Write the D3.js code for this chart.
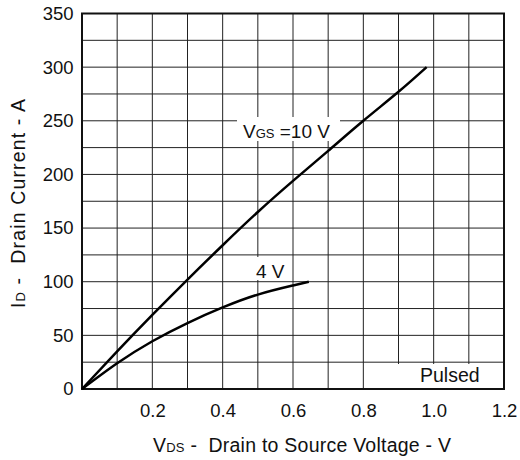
<!DOCTYPE html>
<html><head><meta charset="utf-8">
<script src="https://cdn.jsdelivr.net/npm/d3@7"></script>
<style>body{margin:0;background:#fff}text{font-family:"Liberation Sans",Arial,sans-serif;fill:#111;white-space:pre}</style>
</head><body><svg id="c" width="520" height="460"></svg>
<script>
const vds10 = [0, 0.1, 0.2, 0.3, 0.4, 0.5, 0.6, 0.7, 0.8, 0.9, 0.98];
const id10  = [0, 35, 69, 102, 134, 165, 194, 222, 250, 277, 300];
const vds4  = [0, 0.1, 0.2, 0.3, 0.4, 0.5, 0.6, 0.645];
const id4   = [0, 24, 44.5, 61.5, 76, 88, 96.5, 100];
const xTicks = [0.2, 0.4, 0.6, 0.8, 1.0, 1.2];
const yTicks = [0, 50, 100, 150, 200, 250, 300, 350];

const svg = d3.select("#c");
const L = 82, R = 504, T = 13.5, B = 389;
const x = d3.scaleLinear().domain([0, 1.2]).range([L, R]);
const y = d3.scaleLinear().domain([0, 350]).range([B, T]);

// grid
const g = svg.append("g");
g.selectAll("line.v").data(d3.range(1, 12).map(i => i / 10)).enter().append("line")
  .attr("x1", d => x(d)).attr("x2", d => x(d)).attr("y1", T).attr("y2", B)
  .attr("stroke", "#222").attr("stroke-width", 1);
g.selectAll("line.h").data(d3.range(1, 14).map(i => i * 25)).enter().append("line")
  .attr("y1", d => y(d)).attr("y2", d => y(d)).attr("x1", L).attr("x2", R)
  .attr("stroke", "#222").attr("stroke-width", 1);

// label backgrounds
svg.append("rect").attr("x", 237).attr("y", 117).attr("width", 103).attr("height", 24).attr("fill", "#fff");
svg.append("rect").attr("x", 252).attr("y", 257).attr("width", 38).attr("height", 23).attr("fill", "#fff");
svg.append("rect").attr("x", 398).attr("y", 364).attr("width", 106).attr("height", 24).attr("fill", "#fff");

// frame
svg.append("rect").attr("x", L).attr("y", T).attr("width", R - L).attr("height", B - T)
  .attr("fill", "none").attr("stroke", "#111").attr("stroke-width", 2);

// axes ticks labels
const ax = svg.append("g").attr("transform", `translate(0,${B})`)
  .call(d3.axisBottom(x).tickValues(xTicks).tickFormat(d3.format(".1f")).tickSize(0).tickPadding(15));
ax.select(".domain").remove();
ax.selectAll("text").attr("font-size", 18.5).attr("font-family", "Liberation Sans, Arial, sans-serif").attr("fill", "#111");
const ay = svg.append("g").attr("transform", `translate(${L},0)`)
  .call(d3.axisLeft(y).tickValues(yTicks).tickSize(0).tickPadding(8.5));
ay.select(".domain").remove();
ay.selectAll("text").attr("font-size", 18.5).attr("font-family", "Liberation Sans, Arial, sans-serif").attr("fill", "#111");

// curves
const line = d3.line().x(d => x(d[0])).y(d => y(d[1])).curve(d3.curveNatural);
svg.append("path").datum(vds10.map((v, i) => [v, id10[i]])).attr("d", line)
  .attr("fill", "none").attr("stroke", "#000").attr("stroke-width", 2.5);
svg.append("path").datum(vds4.map((v, i) => [v, id4[i]])).attr("d", line)
  .attr("fill", "none").attr("stroke", "#000").attr("stroke-width", 2.5);

// labels
const t1 = svg.append("text").attr("x", 243).attr("y", 138).attr("font-size", 19);
t1.append("tspan").text("V");
t1.append("tspan").attr("font-size", 13).text("GS");
t1.append("tspan").text(" =10 V");
svg.append("text").attr("x", 256).attr("y", 278).attr("font-size", 19).text("4 V");
svg.append("text").attr("x", 420).attr("y", 382).attr("font-size", 19.5).text("Pulsed");

// axis titles
const xt = svg.append("text").attr("x", 153).attr("y", 452).attr("font-size", 19.5)
  .attr("textLength", 298).attr("lengthAdjust", "spacing");
xt.append("tspan").text("V");
xt.append("tspan").attr("font-size", 13).text("DS");
xt.append("tspan").text(" -  Drain to Source Voltage - V");
const yt = svg.append("text").attr("transform", "translate(25,308) rotate(-90)").attr("font-size", 19.5)
  .attr("textLength", 209).attr("lengthAdjust", "spacing");
yt.append("tspan").text("I");
yt.append("tspan").attr("font-size", 13).text("D");
yt.append("tspan").text(" -  Drain Current - A");
</script></body></html>
